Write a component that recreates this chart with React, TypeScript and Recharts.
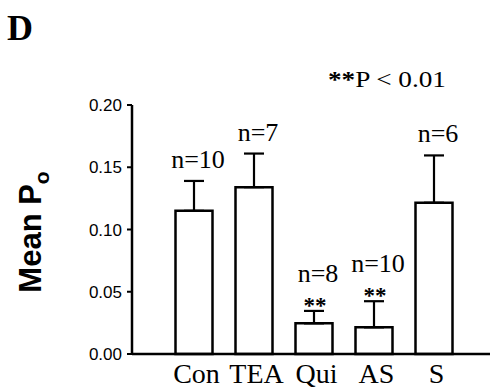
import React from 'react';
import { BarChart, Bar, XAxis, YAxis, ErrorBar, LabelList } from 'recharts';

const categories = ['Con', 'TEA', 'Qui', 'AS', 'S'];
const meanPo = [0.115, 0.134, 0.0246, 0.0214, 0.1215];
const semUpper = [0.024, 0.027, 0.010, 0.021, 0.038];
const nLabels = ['n=10', 'n=7', 'n=8', 'n=10', 'n=6'];
const significant = [false, false, true, true, false];
const yTicks = [0, 0.05, 0.1, 0.15, 0.2];

const data = categories.map((name, i) => ({
  name,
  value: meanPo[i],
  err: [0, semUpper[i]],
}));

const serif = '"Liberation Serif", "Times New Roman", serif';
const sans = '"Liberation Sans", Arial, sans-serif';

const BarLabel = (props: any) => {
  const { x, y, width, height, value, index } = props;
  const pxPerUnit = height / value;
  const errTop = y - semUpper[index] * pxPerUnit;
  const cx = x + width / 2 + 4;
  if (significant[index]) {
    return (
      <g>
        <text x={cx - 3} y={errTop + 2} textAnchor="middle" fontFamily={serif} fontSize={23} fontWeight="bold">
          **
        </text>
        <text x={cx} y={errTop - 29} textAnchor="middle" fontFamily={serif} fontSize={26}>
          {nLabels[index]}
        </text>
      </g>
    );
  }
  return (
    <text x={cx} y={errTop - 13} textAnchor="middle" fontFamily={serif} fontSize={26}>
      {nLabels[index]}
    </text>
  );
};

const CategoryTick = (props: any) => {
  const { x, y, payload } = props;
  return (
    <text x={x + 3} y={y} dy={21} textAnchor="middle" fontFamily={serif} fontSize={28} fill="#000">
      {payload.value}
    </text>
  );
};

const YLabel = () => (
  <text transform="translate(41, 232) rotate(-90)" textAnchor="middle" fontFamily={sans} fontSize={31} fontWeight="bold" fill="#000">
    Mean P<tspan fontSize={21} dy={8}>o</tspan>
  </text>
);

export default function App() {
  return (
    <div style={{ position: 'absolute', left: 0, top: 0, width: 490, height: 390, background: '#fff' }}>
      <BarChart width={490} height={390} data={data} margin={{ top: 105, right: 0, bottom: 0, left: 0 }}>
        <XAxis
          dataKey="name"
          tickLine={false}
          tick={<CategoryTick />}
          axisLine={{ stroke: '#000', strokeWidth: 2.5 }}
          padding={{ left: 31.5, right: 26.5 }}
          height={36}
        />
        <YAxis
          width={132}
          domain={[0, 0.2]}
          ticks={yTicks}
          tickFormatter={(v: number) => v.toFixed(2)}
          tick={{ fill: '#000', fontFamily: sans, fontSize: 17 }}
          tickLine={{ stroke: '#000', strokeWidth: 2 }}
          tickSize={5}
          tickMargin={5}
          axisLine={{ stroke: '#000', strokeWidth: 2.5 }}
          label={{ content: <YLabel /> }}
        />
        <Bar dataKey="value" barSize={37} fill="#fff" stroke="#000" strokeWidth={2.5} isAnimationActive={false}>
          <ErrorBar dataKey="err" width={10} stroke="#000" strokeWidth={2.2} direction="y" isAnimationActive={false} />
          <LabelList dataKey="value" content={<BarLabel />} />
        </Bar>
      </BarChart>
      <svg width={490} height={390} style={{ position: 'absolute', left: 0, top: 0, pointerEvents: 'none' }}>
        <text x={7} y={40} fontFamily={serif} fontSize={36} fontWeight="bold" fill="#000">D</text>
        <text x={328} y={87} fontFamily={serif} fontSize={24} fill="#000" textLength={118} lengthAdjust="spacingAndGlyphs">
          <tspan fontWeight="bold">**</tspan>P &lt; 0.01
        </text>
      </svg>
    </div>
  );
}
